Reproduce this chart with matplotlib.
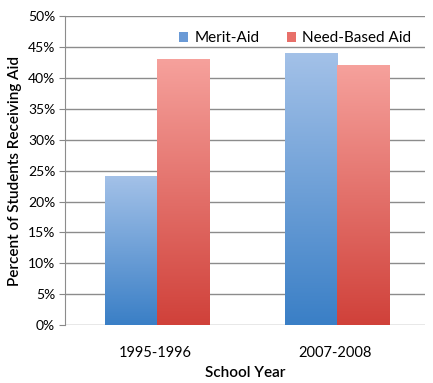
import matplotlib.pyplot as plt
import numpy as np
from matplotlib.colors import LinearSegmentedColormap
from matplotlib.patches import Patch

years = ["1995-1996", "2007-2008"]
merit = [24, 43.9]
need = [42.9, 41.9]

plt.rcParams['font.family'] = ['Lato', 'DejaVu Sans']

fig = plt.figure(figsize=(4.33, 3.83), dpi=100)
ax = fig.add_axes([0.150, 0.151, 0.832, 0.807])

x = np.arange(len(years))
w = 0.29

blue_cmap = LinearSegmentedColormap.from_list("b", ["#3a7fc6", "#a3c1e8"])
red_cmap = LinearSegmentedColormap.from_list("r", ["#d0413a", "#f6a19c"])
grad = np.linspace(0, 1, 256).reshape(-1, 1)

def gradient_bars(xs, vals, cmap):
    bars = ax.bar(xs, vals, w, color='none', edgecolor='none', zorder=3)
    for b in bars:
        x0, y0 = b.get_x(), b.get_y()
        ax.imshow(grad, cmap=cmap, aspect='auto', origin='lower',
                  extent=[x0, x0 + b.get_width(), y0, y0 + b.get_height()],
                  zorder=3)
    return bars

gradient_bars(x - w / 2 + 0.01, merit, blue_cmap)
gradient_bars(x + w / 2 + 0.01, need, red_cmap)

ax.set_xlim(-0.5, 1.5)
ax.set_ylim(0, 50)
ax.set_yticks(np.arange(0, 51, 5))
ax.set_yticklabels([f"{v}%" for v in range(0, 51, 5)], fontsize=10)
ax.set_xticks(x)
ax.set_xticklabels(years, fontsize=10.5)
ax.tick_params(axis='x', length=0, pad=15)
ax.tick_params(axis='y', length=4, color='#888888', direction='out', pad=3)
ax.yaxis.grid(True, color='#8c8c8c', linewidth=1)
ax.set_axisbelow(True)
for s in ['top', 'right', 'bottom']:
    ax.spines[s].set_visible(False)
ax.spines['left'].set_color('#8c8c8c')

ax.set_ylabel("Percent of Students Receiving Aid", fontsize=11, labelpad=4,
              fontweight='semibold')
ax.set_xlabel("School Year", fontsize=11, labelpad=4, fontweight='semibold')

handles = [Patch(facecolor='#6a9ad6'), Patch(facecolor='#e8706a')]
ax.legend(handles, ["Merit-Aid", "Need-Based Aid"], ncol=2, frameon=False,
          loc='upper right', bbox_to_anchor=(1.0, 0.995), fontsize=11,
          handlelength=0.6, handleheight=0.6, handletextpad=0.4, columnspacing=1.8)

fig.savefig("out.png", dpi=100)
